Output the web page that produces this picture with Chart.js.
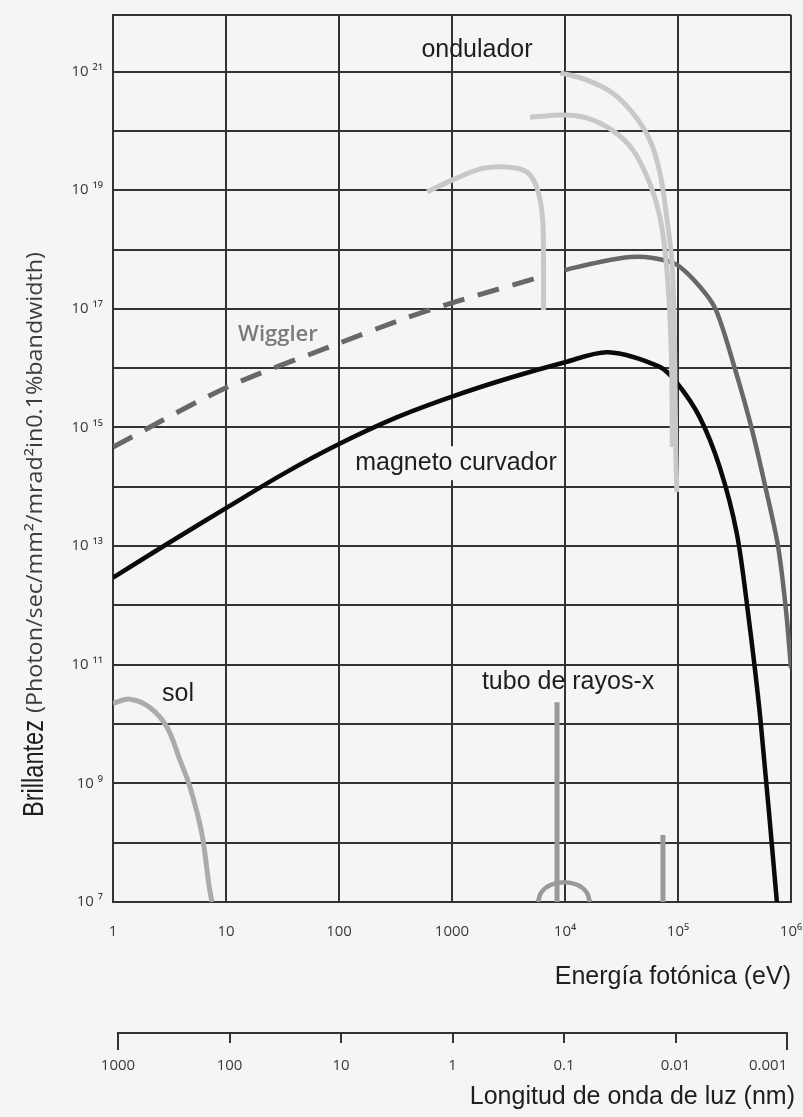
<!DOCTYPE html>
<html>
<head>
<meta charset="utf-8">
<script src="https://cdn.jsdelivr.net/npm/chart.js@4.4.0/dist/chart.umd.min.js"></script>
<style>
  html, body { margin: 0; padding: 0; background: #f5f5f5; }
  canvas { display: block; }
</style>
</head>
<body>
<canvas id="brillo" width="803" height="1117"></canvas>
<script>
// Values: photon energy (eV) and brilliance

// axis ticks
var energyTicks = [1, 10, 100, 1000, 1e4, 1e5, 1e6];
var energyLabels = ['1', '10', '100', '1000', '10⁴', '10⁵', '10⁶'];
var brillTicks = [1e7, 1e8, 1e9, 1e10, 1e11, 1e12, 1e13, 1e14, 1e15, 1e16, 1e17, 1e18, 1e19, 1e20, 1e21];
var brillLabels = ['10 ⁷', '', '10 ⁹', '', '10 ¹¹', '', '10 ¹³', '', '10 ¹⁵', '', '10 ¹⁷', '', '10 ¹⁹', '', '10 ²¹'];
var waveTicks = [1000, 100, 10, 1, 0.1, 0.01, 0.001];
var waveLabels = ['1000', '100', '10', '1', '0.1', '0.01', '0.001\u2003\u2003  '];

// ondulador (three curves)
var und1Energy = [603, 1000, 1862, 3236, 4571, 5623, 6310, 6457, 6457];
var und1Brill = [9.33e18, 1.48e19, 2.34e19, 2.45e19, 2.04e19, 1.12e19, 3.55e18, 5.01e17, 9.55e16];
var und2Energy = [4898, 9550, 1.55e4, 2.63e4, 3.98e4, 5.62e4, 6.92e4, 7.94e4, 8.71e4, 8.91e4];
var und2Brill = [1.70e20, 1.86e20, 1.66e20, 1.02e20, 4.79e19, 1.32e19, 3.55e18, 5.01e17, 2.04e16, 4.68e14];
var und3Energy = [9120, 1.55e4, 2.63e4, 3.98e4, 5.62e4, 6.92e4, 7.94e4, 8.91e4, 9.33e4, 9.55e4, 9.77e4];
var und3Brill = [9.55e20, 7.24e20, 4.37e20, 2.0e20, 7.08e19, 1.95e19, 3.55e18, 5.01e17, 2.04e16, 4.68e14, 8.13e13];

// wiggler: dashed low-energy part and solid part
var wigDashEnergy = [1, 10, 100, 347, 1000, 6900];
var wigDashBrill = [4.68e14, 4.68e15, 2.63e16, 6.46e16, 1.26e17, 3.72e17];
var wigEnergy = [1e4, 2.04e4, 3.76e4, 6.01e4, 9.8e4, 1.57e5, 2.17e5, 3.19e5, 4.52e5, 6.01e5, 7.68e5, 9.03e5, 1e6];
var wigBrill = [4.52e17, 6.17e17, 7.48e17, 7.19e17, 5.5e17, 2.34e17, 9.55e16, 9.77e15, 9.12e14, 8.91e13, 1e13, 8.32e11, 8.71e10];

// magneto curvador
var bendEnergy = [1, 3.16, 10, 31.6, 100, 316, 1000, 3162, 1e4, 2.4e4, 6.9e4, 9.8e4, 1.55e5, 2.34e5, 3.31e5, 4.17e5, 5.37e5, 7.5e5];
var bendBrill = [2.95e12, 1.15e13, 4.37e13, 1.62e14, 5.25e14, 1.45e15, 3.31e15, 6.76e15, 1.26e16, 1.86e16, 1.05e16, 5.62e15, 1.51e15, 2.14e14, 1.66e13, 7.41e11, 1.17e10, 1e7];

// sol
var solEnergy = [1, 1.41, 2.12, 3.0, 3.92, 4.8, 6.1, 7.11, 7.52];
var solBrill = [2.24e10, 2.63e10, 1.91e10, 8.91e9, 2.45e9, 8.71e8, 1.45e8, 1.78e7, 1e7];

// tubo de rayos-x: two lines and the bremsstrahlung hump
var tubeLine1Energy = [8500, 8500];
var tubeLine1Brill = [2.34e10, 1e7];
var tubeLine2Energy = [7.36e4, 7.36e4];
var tubeLine2Brill = [1.35e8, 1e7];
var tubeArchEnergy = [5770, 6190, 7520, 9800, 1.28e4, 1.55e4, 1.66e4];
var tubeArchBrill = [1e7, 1.47e7, 1.95e7, 2.16e7, 1.95e7, 1.47e7, 1e7];

// text labels inside the plot
var noteTexts = ['ondulador', 'Wiggler', 'magneto curvador', 'sol', 'tubo de rayos-x'];
var noteEnergy = [1664, 28.8, 1084, 3.76, 10640];
var noteBrill = [2.31e21, 3.6e16, 2.5e14, 3.2e10, 5.1e10];

function points(xs, ys) {
  return xs.map(function (x, i) { return { x: x, y: ys[i] }; });
}

function curve(xs, ys, color, width, tension, dash) {
  return {
    data: points(xs, ys),
    borderColor: color,
    borderWidth: width,
    borderDash: dash || [],
    pointRadius: 0,
    tension: tension,
    fill: false
  };
}

var TICK_FONT = { family: '"Open Sans", "DejaVu Sans", sans-serif', size: 15 };
var TITLE_FONT = '25px "Liberation Sans", Arial, sans-serif';
var GRID = '#333333';

// curve labels, y-axis title and the wavelength ruler
var annotate = {
  id: 'annotate',
  beforeDatasetsDraw: function (chart) {
    var ctx = chart.ctx, xs = chart.scales.x, ys = chart.scales.y;
    // background patch behind "magneto curvador"
    ctx.save();
    ctx.font = TITLE_FONT;
    var w = ctx.measureText(noteTexts[2]).width;
    var px = xs.getPixelForValue(noteEnergy[2]);
    var py = ys.getPixelForValue(noteBrill[2]);
    ctx.fillStyle = '#f5f5f5';
    ctx.fillRect(px - w / 2 - 4, py - 17, w + 8, 34);
    ctx.restore();
  },
  afterDatasetsDraw: function (chart) {
    var ctx = chart.ctx, xs = chart.scales.x, ys = chart.scales.y;
    ctx.save();
    ctx.textAlign = 'center';
    ctx.textBaseline = 'middle';
    for (var i = 0; i < noteTexts.length; i++) {
      if (noteTexts[i] === 'Wiggler') {
        ctx.font = '600 22px "Open Sans", "DejaVu Sans", sans-serif';
        ctx.fillStyle = '#7a7a7a';
      } else {
        ctx.font = TITLE_FONT;
        ctx.fillStyle = '#1e1e1e';
      }
      ctx.fillText(noteTexts[i], xs.getPixelForValue(noteEnergy[i]), ys.getPixelForValue(noteBrill[i]));
    }
    ctx.restore();
  },
  afterDraw: function (chart) {
    var ctx = chart.ctx;

    // y axis title, rotated, two sizes
    ctx.save();
    ctx.translate(43, 817);
    ctx.rotate(-Math.PI / 2);
    ctx.textAlign = 'left';
    ctx.textBaseline = 'alphabetic';
    ctx.font = '30px "Liberation Sans", Arial, sans-serif';
    ctx.fillStyle = '#1e1e1e';
    var bw = ctx.measureText('Brillantez').width;
    ctx.save();
    ctx.scale(97 / bw, 1);
    ctx.fillText('Brillantez', 0, 0);
    ctx.restore();
    ctx.font = '22px "Open Sans", "DejaVu Sans", sans-serif';
    ctx.fillStyle = '#3c3c3c';
    var rest = '(Photon/sec/mm²/mrad²in0.1%bandwidth)';
    var rw = ctx.measureText(rest).width;
    ctx.translate(104, 0);
    ctx.scale(461 / rw, 1);
    ctx.fillText(rest, 0, -1);
    ctx.restore();

    // wavelength ruler line with longer end ticks, and its title
    var s = chart.scales.x2;
    var x0 = s.getPixelForValue(waveTicks[0]);
    var x1 = s.getPixelForValue(waveTicks[waveTicks.length - 1]);
    ctx.save();
    ctx.strokeStyle = GRID;
    ctx.lineWidth = 2;
    ctx.beginPath();
    ctx.moveTo(x0, s.top + 17);
    ctx.lineTo(x0, s.top);
    ctx.lineTo(x1, s.top);
    ctx.lineTo(x1, s.top + 17);
    ctx.stroke();
    ctx.font = TITLE_FONT;
    ctx.fillStyle = '#1e1e1e';
    ctx.textAlign = 'right';
    ctx.textBaseline = 'middle';
    ctx.fillText('Longitud de onda de luz (nm)', s.right + 4, s.bottom - 20);
    ctx.restore();
  }
};

function noSidePadding(s) {
  s.paddingLeft = 0;
  s.paddingRight = 0;
}

var chart = new Chart(document.getElementById('brillo'), {
  type: 'line',
  data: {
    datasets: [
      curve(und3Energy, und3Brill, '#c8c8c8', 5, 0.35),
      curve(und2Energy, und2Brill, '#c8c8c8', 5, 0.35),
      curve(und1Energy, und1Brill, '#c8c8c8', 5, 0.35),
      curve(wigEnergy, wigBrill, '#686868', 4.5, 0.3),
      curve(wigDashEnergy, wigDashBrill, '#686868', 5, 0.3, [22, 14]),
      curve(bendEnergy, bendBrill, '#0a0a0a', 4.5, 0.3),
      curve(solEnergy, solBrill, '#ababab', 5, 0.35),
      curve(tubeLine1Energy, tubeLine1Brill, '#999999', 5, 0),
      curve(tubeLine2Energy, tubeLine2Brill, '#999999', 5, 0),
      curve(tubeArchEnergy, tubeArchBrill, '#999999', 4.5, 0.4)
    ]
  },
  options: {
    responsive: false,
    animation: false,
    layout: { padding: { left: 0, right: 12, top: 15, bottom: 0 } },
    plugins: {
      legend: { display: false },
      tooltip: { enabled: false }
    },
    scales: {
      x: {
        type: 'logarithmic',
        position: 'bottom',
        min: 1,
        max: 1e6,
        afterBuildTicks: function (s) {
          s.ticks = energyTicks.map(function (v) { return { value: v }; });
        },
        afterFit: function (s) { s.height = 131; noSidePadding(s); },
        grid: { color: GRID, lineWidth: 2, drawTicks: false },
        border: { color: GRID, width: 2 },
        ticks: {
          autoSkip: false,
          maxRotation: 0,
          padding: 21,
          color: '#3a3a3a',
          font: TICK_FONT,
          callback: function (v, i) { return energyLabels[i]; }
        },
        title: {
          display: true,
          text: 'Energía fotónica (eV)',
          align: 'end',
          color: '#1e1e1e',
          font: { family: '"Liberation Sans", Arial, sans-serif', size: 25 },
          padding: { top: 0, bottom: 41 }
        }
      },
      x2: {
        type: 'logarithmic',
        position: 'bottom',
        reverse: true,
        min: 9.21e-4,
        max: 1109,
        afterBuildTicks: function (s) {
          s.ticks = waveTicks.map(function (v) { return { value: v }; });
        },
        afterFit: function (s) { s.height = 84; noSidePadding(s); },
        grid: { drawOnChartArea: false, drawTicks: true, tickLength: 10, color: GRID, lineWidth: 2 },
        border: { display: false },
        ticks: {
          autoSkip: false,
          maxRotation: 0,
          padding: 14,
          color: '#3a3a3a',
          font: TICK_FONT,
          callback: function (v, i) { return waveLabels[i]; }
        },
        title: { display: false }
      },
      y: {
        type: 'logarithmic',
        min: 1e7,
        max: 9e21,
        afterBuildTicks: function (s) {
          // decade grid plus the top edge of the frame
          s.ticks = brillTicks.concat([9e21]).map(function (v) { return { value: v }; });
        },
        afterFit: function (s) { s.width = 113; s.paddingTop = 0; s.paddingBottom = 0; },
        grid: { color: GRID, lineWidth: 2, drawTicks: false },
        border: { color: GRID, width: 2 },
        ticks: {
          autoSkip: false,
          padding: 10,
          color: '#3a3a3a',
          font: TICK_FONT,
          callback: function (v, i) { return brillLabels[i] || ''; }
        }
      }
    }
  },
  plugins: [annotate]
});
</script>
</body>
</html>
